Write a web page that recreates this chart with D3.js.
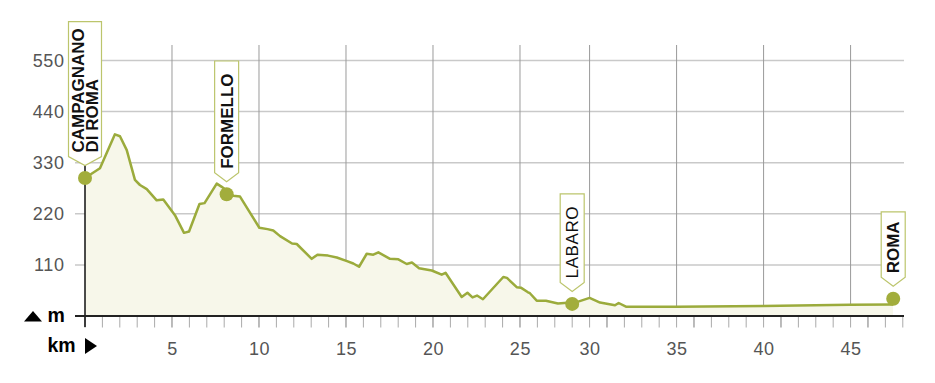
<!DOCTYPE html>
<html><head><meta charset="utf-8">
<script src="https://cdn.jsdelivr.net/npm/d3@7"></script>
<style>
html,body{margin:0;padding:0;background:#fff;}
svg{display:block;font-family:"Liberation Sans",Arial,sans-serif;}
</style></head>
<body>
<svg id="c" width="935" height="383"></svg>
<script>
// distance (km) and elevation (m) of the profile
const profileKm = [0,0.86,1.72,2.01,2.40,2.87,3.16,3.55,4.12,4.50,5.17,5.69,5.98,6.58,6.87,7.57,7.86,8.52,8.91,10.02,10.49,10.82,11.21,11.90,12.17,13.03,13.36,13.97,14.47,15.06,15.42,15.75,16.19,16.57,16.86,17.53,18.01,18.49,18.79,19.20,19.93,20.50,20.72,21.65,21.98,22.27,22.53,22.87,24.04,24.25,24.81,25.05,25.46,25.57,25.96,26.49,27.18,28.26,29.00,29.60,30.46,30.67,31.09,34.0,38.98,43.97,46.44];
const profileElev = [297,318,391,387,357,293,282,273,249,251,217,179,182,241,243,285,278,259,257,190,187,184,172,156,155,123,132,130,126,118,113,106,134,132,137,123,122,112,115,103,98,89,93,41,50,40,44,36,84,82,62,61,51,49,33,33,27,30,39,29,23,28,20,20,21.5,24,25];

// places along the route
const placeNames = [["CAMPAGNANO","DI ROMA"],["FORMELLO"],["LABARO"],["ROMA"]];
const placeKm = [0, 8.14, 28.0, 46.45];
const placeElev = [297, 262, 26, 37];
const placeBold = [true, true, false, true];

// axes
const yTicks = [110,220,330,440,550];
const xGridKm = [5,10,15,20,25,29,34,39,44];
const xGridLabels = ["5","10","15","20","25","30","35","40","45"];
const kmMax = 47.07;

const svg = d3.select("#c");
const x = d3.scaleLinear().domain([0, kmMax]).range([85, 904]);
const y = d3.scaleLinear().domain([0, 550]).range([316, 60.5]);
const yTop = 45, axisLeft = 75, axisRight = 904;

// horizontal grid
svg.append("g").selectAll("line").data(yTicks).join("line")
  .attr("x1", axisLeft).attr("x2", axisRight)
  .attr("y1", d => y(d)).attr("y2", d => y(d))
  .attr("stroke", "#c9c9c9").attr("stroke-width", 1.5);

// vertical grid
svg.append("g").selectAll("line").data(xGridKm).join("line")
  .attr("x1", d => x(d)).attr("x2", d => x(d))
  .attr("y1", yTop).attr("y2", 316)
  .attr("stroke", "#9a9a9a").attr("stroke-width", 1);

// y labels
svg.append("g").selectAll("text").data(yTicks).join("text")
  .attr("x", 64.5).attr("y", d => y(d)).attr("dy", "0.36em")
  .attr("text-anchor", "end").attr("fill", "#555")
  .attr("font-size", 18).attr("letter-spacing", 0.6)
  .text(d => d);

// x labels
svg.append("g").selectAll("text").data(xGridKm).join("text")
  .attr("x", (d) => x(d) + 0.5).attr("y", 355)
  .attr("text-anchor", "middle").attr("fill", "#555")
  .attr("font-size", 18).attr("letter-spacing", 0.6)
  .text((d, i) => xGridLabels[i]);

const pts = profileKm.map((k, i) => [k, profileElev[i]]);

// area
svg.append("path").datum(pts)
  .attr("d", d3.area().x(d => x(d[0])).y0(y(0)).y1(d => y(d[1])))
  .attr("fill", "#f7f7ea");

// minor ticks
svg.append("g").selectAll("line").data(d3.range(0, 48)).join("line")
  .attr("x1", d => x(d)).attr("x2", d => x(d))
  .attr("y1", 316).attr("y2", 327.5)
  .attr("stroke", d => d % 5 === 0 ? "#777" : "#aaa").attr("stroke-width", 1);

// y axis line
svg.append("line").attr("x1", x(0)).attr("x2", x(0)).attr("y1", yTop).attr("y2", 327)
  .attr("stroke", "#111").attr("stroke-width", 1.5);

// x axis line
svg.append("line").attr("x1", axisLeft).attr("x2", axisRight).attr("y1", 316).attr("y2", 316)
  .attr("stroke", "#222").attr("stroke-width", 2);

// profile line
svg.append("path").datum(pts)
  .attr("d", d3.line().x(d => x(d[0])).y(d => y(d[1])))
  .attr("fill", "none").attr("stroke", "#9bab3c").attr("stroke-width", 2.5)
  .attr("stroke-linejoin", "round");

// axis unit labels
svg.append("path").attr("d", "M24,321.5 L33,311 L42,321.5 Z").attr("fill", "#000");
svg.append("text").attr("x", 47.5).attr("y", 321.5).attr("font-size", 19.5)
  .attr("font-weight", "bold").attr("fill", "#000").text("m");
svg.append("text").attr("x", 47.5).attr("y", 352).attr("font-size", 19.5)
  .attr("font-weight", "bold").attr("fill", "#000").text("km");
svg.append("path").attr("d", "M85,338 L97,346 L85,354 Z").attr("fill", "#000");

// place markers
placeNames.forEach((lines, i) => {
  const cx = x(placeKm[i]), cy = y(placeElev[i]);
  const maxChars = d3.max(lines, l => l.length);
  const tip = cy - 12.5;
  const h = 28 + 11.6 * maxChars;
  const top = tip - h;
  const halfW = lines.length > 1 ? 16.5 : 12;
  const vH = 9;
  const g = svg.append("g");
  g.append("path")
    .attr("d", `M${cx - halfW},${top} L${cx + halfW},${top} L${cx + halfW},${tip - vH} L${cx},${tip} L${cx - halfW},${tip - vH} Z`)
    .attr("fill", "#fff").attr("stroke", "#bcc56c").attr("stroke-width", 1.2);
  const lh = 14;
  lines.forEach((t, j) => {
    const tx = cx + (j - (lines.length - 1) / 2) * lh;
    const ty = tip - 13;
    g.append("text")
      .attr("transform", `translate(${tx},${ty}) rotate(-90)`)
      .attr("dy", "0.36em")
      .attr("font-size", 17)
      .attr("font-weight", placeBold[i] ? "bold" : "normal")
      .attr("letter-spacing", placeBold[i] ? 0 : 0.6)
      .attr("fill", "#111")
      .text(t);
  });
  svg.append("circle").attr("cx", cx).attr("cy", cy).attr("r", 7).attr("fill", "#a2ad3c");
});
</script>
</body></html>
